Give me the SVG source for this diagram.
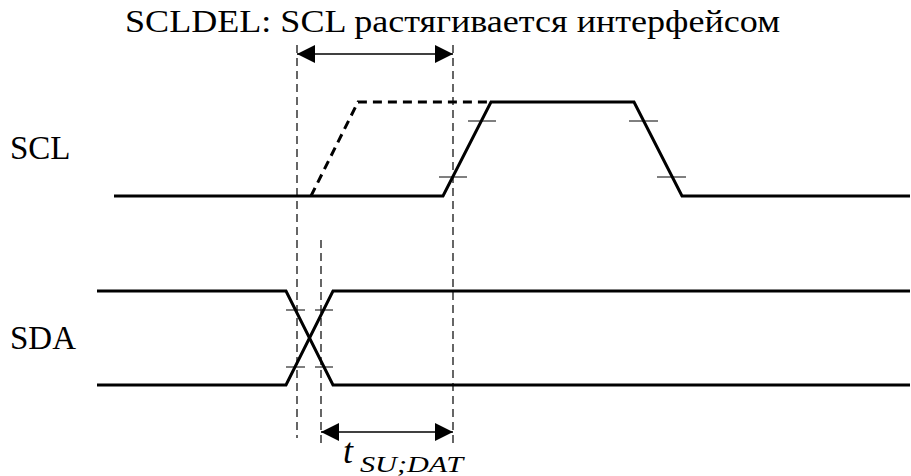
<svg xmlns="http://www.w3.org/2000/svg" width="911" height="476" viewBox="0 0 911 476">
<defs>
<marker id="ah" viewBox="0 0 18 18" refX="18" refY="9" markerWidth="18" markerHeight="18" markerUnits="userSpaceOnUse" orient="auto-start-reverse">
<path d="M0,0 L18,9 L0,18 Z" fill="#000"/>
</marker>
<style>
.sig{fill:none;stroke:#000;stroke-width:3;stroke-linejoin:miter}
.sigd{fill:none;stroke:#000;stroke-width:3;stroke-dasharray:9,6}
.guide{fill:none;stroke:#000;stroke-width:1.2;stroke-dasharray:8,5}
.tick{stroke:#000;stroke-width:1}
.dim{stroke:#000;stroke-width:1.5;fill:none}
</style>
</defs>
<rect width="911" height="476" fill="#fff"/>
<g font-family="'Liberation Serif', 'DejaVu Serif', serif" fill="#000">
<g id="title"><text x="125" y="32" font-size="31" textLength="655" lengthAdjust="spacingAndGlyphs">SCLDEL: SCL растягивается интерфейсом</text></g>
<g id="scl-label"><text x="10" y="159" font-size="33">SCL</text></g>
<g id="sda-label"><text x="10" y="349" font-size="33">SDA</text></g>
<g id="tsudat"><text x="343" y="463" font-size="36" font-style="italic">t</text><text x="360" y="472" font-size="24" font-style="italic" textLength="103" lengthAdjust="spacingAndGlyphs">SU;DAT</text></g>
</g>
<g id="scl">
<polyline class="sig" points="114,196 443,196 491,102 634,102 682,196 910,196"/>
<polyline class="sigd" points="311,196 358,102 491,102"/>
<line class="tick" x1="439" y1="177" x2="467" y2="177"/>
<line class="tick" x1="468" y1="121" x2="496" y2="121"/>
<line class="tick" x1="629" y1="121" x2="658" y2="121"/>
<line class="tick" x1="657" y1="177" x2="686" y2="177"/>
</g>
<g id="sda">
<polyline class="sig" points="97,291 286,291 333,385 910,385"/>
<polyline class="sig" points="97,385 286,385 333,291 910,291"/>
<line class="tick" x1="286" y1="310" x2="305" y2="310"/>
<line class="tick" x1="315" y1="310" x2="333" y2="310"/>
<line class="tick" x1="286" y1="367" x2="305" y2="367"/>
<line class="tick" x1="315" y1="367" x2="333" y2="367"/>
</g>
<g id="connectors">
<line class="guide" x1="297" y1="45" x2="297" y2="438"/>
<line class="guide" x1="453" y1="45" x2="453" y2="445"/>
<line class="guide" x1="321" y1="240" x2="321" y2="445"/>
<line class="dim" x1="297" y1="54" x2="453" y2="54" marker-start="url(#ah)" marker-end="url(#ah)"/>
<line class="dim" x1="321" y1="432" x2="453" y2="432" marker-start="url(#ah)" marker-end="url(#ah)"/>
</g>
</svg>
